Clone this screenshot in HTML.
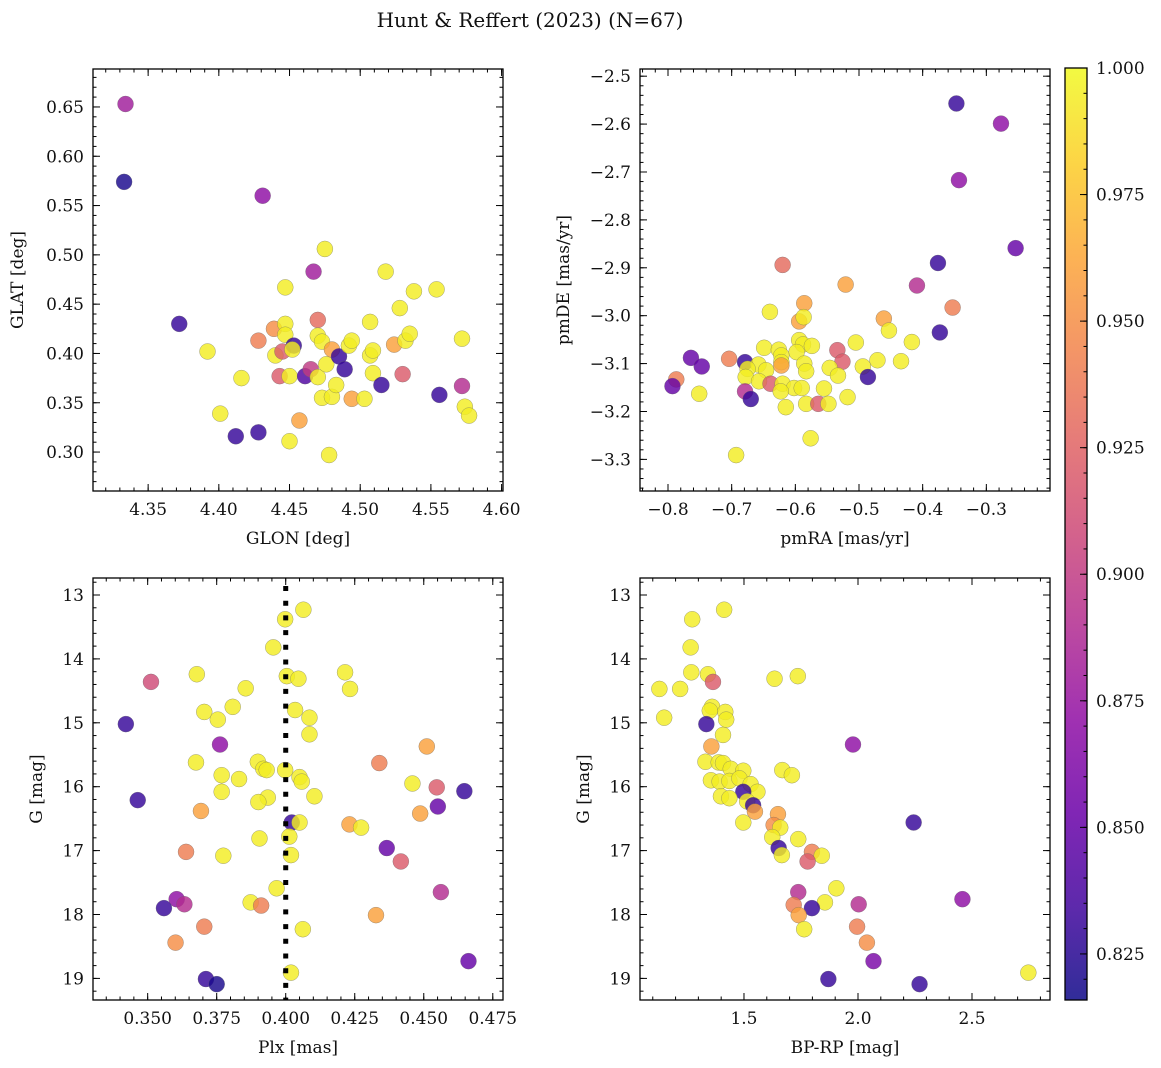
<!DOCTYPE html>
<html><head><meta charset="utf-8"><style>
html,body{margin:0;padding:0;background:#fff}
svg{display:block;font-family:"DejaVu Serif","Liberation Serif",serif}
</style></head><body>
<svg id="fig" width="1161" height="1068" viewBox="0 0 1161 1068" xmlns="http://www.w3.org/2000/svg">
<rect width="1161" height="1068" fill="#fff"/>
<text x="530" y="27" font-size="20" text-anchor="middle" fill="#111">Hunt &amp; Reffert (2023) (N=67)</text>
<defs><linearGradient id="cbg" x1="0" y1="1" x2="0" y2="0">
<stop offset="0" stop-color="#0d0887"/><stop offset="0.1" stop-color="#41049d"/><stop offset="0.2" stop-color="#6a00a8"/><stop offset="0.3" stop-color="#8f0da4"/><stop offset="0.4" stop-color="#b12a90"/><stop offset="0.5" stop-color="#cc4778"/><stop offset="0.6" stop-color="#e16462"/><stop offset="0.7" stop-color="#f2844b"/><stop offset="0.8" stop-color="#fca636"/><stop offset="0.9" stop-color="#fcce25"/><stop offset="1" stop-color="#f0f921"/></linearGradient></defs>
</svg>
<script>
const Y=0.995;
// Panel 1: GLON vs GLAT
const tlGlon=[4.334,4.333,4.431,4.372,4.392,4.416,4.401,4.412,4.428,4.428,4.439,4.440,4.447,4.447,4.447,4.445,4.443,4.453,4.452,4.450,4.450,4.457,4.461,4.465,4.467,4.470,4.470,4.473,4.470,4.475,4.473,4.478,4.476,4.480,4.480,4.483,4.485,4.489,4.492,4.494,4.494,4.503,4.507,4.507,4.509,4.509,4.515,4.518,4.524,4.528,4.530,4.532,4.535,4.538,4.554,4.556,4.572,4.572,4.574,4.577];
const tlGlat=[0.653,0.574,0.560,0.430,0.402,0.375,0.339,0.316,0.320,0.413,0.425,0.398,0.467,0.430,0.419,0.402,0.377,0.408,0.404,0.377,0.311,0.332,0.377,0.384,0.483,0.434,0.418,0.412,0.376,0.506,0.355,0.297,0.389,0.404,0.356,0.368,0.397,0.384,0.408,0.413,0.354,0.354,0.398,0.432,0.380,0.403,0.368,0.483,0.409,0.446,0.379,0.413,0.420,0.463,0.465,0.358,0.367,0.415,0.346,0.337];
const tlProb=[0.88,0.82,0.87,0.83,Y,Y,Y,0.83,0.83,0.94,0.95,Y,Y,Y,Y,0.92,0.92,0.83,Y,Y,Y,0.96,0.84,0.90,0.88,0.93,Y,Y,Y,Y,Y,Y,Y,0.96,Y,Y,0.83,0.83,Y,Y,0.96,Y,Y,Y,Y,Y,0.83,Y,0.96,Y,0.92,Y,Y,Y,Y,0.83,0.89,Y,Y,Y];
const tlXTicks=[4.35,4.40,4.45,4.50,4.55,4.60];
const tlYTicks=[0.30,0.35,0.40,0.45,0.50,0.55,0.60,0.65];
// Panel 2: pmRA vs pmDE
const trPmra=[-0.347,-0.277,-0.343,-0.254,-0.376,-0.620,-0.521,-0.409,-0.353,-0.586,-0.640,-0.594,-0.587,-0.461,-0.453,-0.373,-0.417,-0.505,-0.594,-0.588,-0.574,-0.534,-0.649,-0.626,-0.598,-0.622,-0.764,-0.704,-0.679,-0.622,-0.526,-0.471,-0.434,-0.586,-0.747,-0.658,-0.622,-0.675,-0.646,-0.583,-0.546,-0.494,-0.533,-0.678,-0.486,-0.787,-0.793,-0.657,-0.639,-0.620,-0.602,-0.590,-0.623,-0.555,-0.679,-0.751,-0.670,-0.518,-0.583,-0.564,-0.548,-0.615,-0.576,-0.693];
const trPmde=[-2.557,-2.599,-2.717,-2.859,-2.890,-2.894,-2.935,-2.937,-2.983,-2.974,-2.992,-3.012,-3.003,-3.006,-3.031,-3.035,-3.055,-3.056,-3.051,-3.060,-3.063,-3.072,-3.067,-3.071,-3.076,-3.083,-3.088,-3.090,-3.097,-3.097,-3.096,-3.093,-3.095,-3.100,-3.106,-3.102,-3.104,-3.111,-3.114,-3.116,-3.109,-3.106,-3.125,-3.128,-3.128,-3.133,-3.147,-3.137,-3.142,-3.142,-3.151,-3.151,-3.158,-3.152,-3.158,-3.163,-3.174,-3.170,-3.184,-3.184,-3.184,-3.191,-3.256,-3.291];
const trProb=[0.83,0.87,0.87,0.85,0.83,0.93,0.96,0.89,0.94,0.96,Y,0.96,Y,0.96,Y,0.83,Y,Y,Y,Y,Y,0.92,Y,Y,Y,Y,0.85,0.94,0.83,Y,0.92,Y,Y,Y,0.85,Y,0.96,Y,Y,Y,Y,Y,Y,Y,0.83,0.94,0.85,Y,0.92,Y,Y,Y,Y,Y,0.89,Y,0.83,Y,Y,0.92,Y,Y,Y,Y];
const trXTicks=[-0.8,-0.7,-0.6,-0.5,-0.4,-0.3];
const trYTicks=[-2.5,-2.6,-2.7,-2.8,-2.9,-3.0,-3.1,-3.2,-3.3];
// Panel 3: Plx vs G
const blPlx=[0.4064,0.3998,0.3955,0.3678,0.3512,0.4004,0.4046,0.4215,0.4233,0.3855,0.3808,0.3705,0.3754,0.4034,0.4086,0.4086,0.3421,0.3762,0.4511,0.3675,0.3899,0.3919,0.3931,0.3998,0.4339,0.3768,0.3831,0.4050,0.4058,0.4459,0.4547,0.4647,0.3464,0.3768,0.3935,0.3901,0.4104,0.4551,0.3693,0.4487,0.4022,0.4050,0.4231,0.4273,0.3905,0.4013,0.3639,0.4019,0.3774,0.4366,0.4417,0.3967,0.4562,0.3605,0.3633,0.3559,0.3873,0.3911,0.4327,0.3705,0.4062,0.3601,0.4662,0.4019,0.3711,0.3750];
const blG=[13.23,13.38,13.82,14.24,14.36,14.27,14.31,14.21,14.47,14.46,14.75,14.83,14.95,14.80,14.92,15.18,15.02,15.34,15.37,15.62,15.61,15.72,15.74,15.74,15.63,15.82,15.88,15.85,15.92,15.95,16.01,16.07,16.21,16.08,16.17,16.24,16.15,16.31,16.38,16.42,16.56,16.56,16.59,16.64,16.81,16.78,17.02,17.07,17.08,16.96,17.17,17.59,17.65,17.76,17.84,17.90,17.81,17.86,18.01,18.19,18.23,18.44,18.73,18.91,19.01,19.09];
const blProb=[Y,Y,Y,Y,0.91,Y,Y,Y,Y,Y,Y,Y,Y,Y,Y,Y,0.83,0.87,0.96,Y,Y,Y,Y,Y,0.94,Y,Y,Y,Y,Y,0.92,0.83,0.83,Y,Y,Y,Y,0.85,0.96,0.96,0.83,Y,0.96,Y,Y,Y,0.94,Y,Y,0.85,0.92,Y,0.89,0.87,0.89,0.83,Y,0.94,0.96,0.94,Y,0.95,0.85,Y,0.83,0.82];
const blXTicks=[0.350,0.375,0.400,0.425,0.450,0.475];
const gTicks=[13,14,15,16,17,18,19];
const plxLine=[0.4];
// Panel 4: BP-RP vs G
const brBprp=[1.413,1.273,1.266,1.269,1.342,1.364,1.129,1.220,1.634,1.736,1.150,1.360,1.350,1.418,1.422,1.335,1.408,1.357,1.978,1.331,1.389,1.408,1.442,1.497,1.668,1.710,1.355,1.393,1.436,1.480,1.529,1.559,1.497,1.399,1.436,1.514,1.540,1.548,1.649,1.497,1.630,1.659,2.244,1.624,1.738,1.652,1.666,1.798,1.841,1.779,1.905,1.738,1.855,2.458,2.003,1.718,1.798,1.740,1.996,1.764,2.039,2.068,2.747,1.870,2.270];
const brG=[13.23,13.38,13.82,14.21,14.24,14.36,14.47,14.47,14.31,14.27,14.92,14.75,14.81,14.83,14.95,15.02,15.19,15.37,15.34,15.61,15.62,15.63,15.72,15.75,15.74,15.82,15.90,15.92,15.91,15.87,15.96,16.08,16.08,16.15,16.18,16.23,16.29,16.39,16.43,16.56,16.60,16.64,16.56,16.79,16.82,16.96,17.07,17.02,17.08,17.17,17.59,17.65,17.81,17.76,17.84,17.85,17.90,18.01,18.19,18.23,18.44,18.73,18.91,19.01,19.09];
const brProb=[Y,Y,Y,Y,Y,0.92,Y,Y,Y,Y,Y,Y,Y,Y,Y,0.83,Y,0.96,0.87,Y,Y,Y,Y,Y,Y,Y,Y,Y,Y,Y,Y,Y,0.83,Y,Y,Y,0.83,0.96,0.96,Y,0.95,Y,0.83,Y,Y,0.83,Y,0.94,Y,0.92,Y,0.89,Y,0.87,0.89,0.94,0.83,0.96,0.94,Y,0.95,0.86,Y,0.83,0.83];
const brXTicks=[1.5,2.0,2.5];
const cbTicks=[0.825,0.850,0.875,0.900,0.925,0.950,0.975,1.000];

const NS="http://www.w3.org/2000/svg";
const svg=document.getElementById('fig');
function mk(tag,attrs,parent){const e=document.createElementNS(NS,tag);for(const k in attrs)e.setAttribute(k,attrs[k]);(parent||svg).appendChild(e);return e;}
const stops=[[13,8,135],[65,4,157],[106,0,168],[143,13,164],[177,42,144],[204,71,120],[225,100,98],[242,132,75],[252,166,54],[252,206,37],[240,249,33]];
const CMIN=0.8159,CMAX=1.0;
function cmap(v){let t=(v-CMIN)/(CMAX-CMIN);t=Math.max(0,Math.min(1,t));const f=t*10,i=Math.min(9,Math.floor(f)),r=f-i;const a=stops[i],b=stops[i+1];return 'rgb('+[0,1,2].map(j=>Math.round(a[j]+(b[j]-a[j])*r)).join(',')+')';}
function fmt(v,d){return v.toFixed(d).replace('-','\u2212');}
function lin(d0,d1,r0,r1){return v=>r0+(v-d0)/(d1-d0)*(r1-r0);}

function panel(p){
  const g=mk('g',{});
  
  
  const sx=lin(p.xr[0],p.xr[1],p.x0,p.x1), sy=lin(p.yr[0],p.yr[1],p.y0,p.y1);
  const tg=mk('g',{stroke:'#000','stroke-width':1},g);
  
  
  const xa=Math.min(p.xr[0],p.xr[1]),xb=Math.max(p.xr[0],p.xr[1]);
  for(let k=Math.ceil(xa/p.xmin-1e-6);k*p.xmin<=xb+1e-9;k++){const X=sx(k*p.xmin);mk('line',{x1:X,x2:X,y1:p.y1,y2:p.y1-3.5},tg);mk('line',{x1:X,x2:X,y1:p.y0,y2:p.y0+3.5},tg);}
  const ya=Math.min(p.yr[0],p.yr[1]),yb=Math.max(p.yr[0],p.yr[1]);
  for(let k=Math.ceil(ya/p.ymin-1e-6);k*p.ymin<=yb+1e-9;k++){const Yy=sy(k*p.ymin);mk('line',{x1:p.x0,x2:p.x0+3.5,y1:Yy,y2:Yy},tg);mk('line',{x1:p.x1,x2:p.x1-3.5,y1:Yy,y2:Yy},tg);}
  p.xt.forEach(v=>{const X=sx(v);mk('line',{x1:X,x2:X,y1:p.y1,y2:p.y1-7},tg);mk('line',{x1:X,x2:X,y1:p.y0,y2:p.y0+7},tg);
    const t=mk('text',{x:X,y:p.y1+24,'font-size':17,'text-anchor':'middle',fill:'#111'},g);t.textContent=fmt(v,p.xd);
    });
  p.yt.forEach(v=>{const Yy=sy(v);mk('line',{x1:p.x0,x2:p.x0+7,y1:Yy,y2:Yy},tg);mk('line',{x1:p.x1,x2:p.x1-7,y1:Yy,y2:Yy},tg);
    const t=mk('text',{x:p.x0-9,y:Yy+6,'font-size':17,'text-anchor':'end',fill:'#111'},g);t.textContent=fmt(v,p.yd);
    });
  const pg=mk('g',{},g);
  
  
  p.xs.forEach((v,i)=>{const c=mk('circle',{cx:sx(v),cy:sy(p.ys[i]),r:8,fill:cmap(p.c[i]),'fill-opacity':0.82,stroke:'#666','stroke-opacity':0.6,'stroke-width':0.5},pg);
    });
  if(p.vline){p.vline.forEach(v=>{const l=mk('line',{x1:sx(v),x2:sx(v),y1:p.y0+8,y2:p.y1,stroke:'#000','stroke-width':5,'stroke-dasharray':'5 9.7'},g);
    });}
  const fr=mk('rect',{x:p.x0,y:p.y0,width:p.x1-p.x0,height:p.y1-p.y0,fill:'none',stroke:'#000','stroke-width':1.3},g);
  
  const xl=mk('text',{x:(p.x0+p.x1)/2,y:p.y1+53,'font-size':17,'text-anchor':'middle',fill:'#111'},g);xl.textContent=p.xl;
  
  const yx=p.ylx;const yl=mk('text',{x:yx,y:(p.y0+p.y1)/2,'font-size':17,'text-anchor':'middle',fill:'#111',transform:'rotate(-90 '+yx+' '+(p.y0+p.y1)/2+')'},g);yl.textContent=p.yl;
  
}
panel({name:'glon-glat-panel',x0:93,x1:503,y0:69,y1:491,xr:[4.311,4.601],yr:[0.6885,0.2605],xmin:0.01,ymin:0.01,xt:tlXTicks,yt:tlYTicks,xd:2,yd:2,xs:tlGlon,ys:tlGlat,c:tlProb,xl:'GLON [deg]',yl:'GLAT [deg]',ylx:23});
panel({name:'proper-motion-panel',x0:640,x1:1050,y0:69,y1:491,xr:[-0.844,-0.200],yr:[-2.485,-3.366],xmin:0.02,ymin:0.02,xt:trXTicks,yt:trYTicks,xd:1,yd:1,xs:trPmra,ys:trPmde,c:trProb,xl:'pmRA [mas/yr]',yl:'pmDE [mas/yr]',ylx:569});
panel({name:'parallax-magnitude-panel',x0:93,x1:503,y0:578,y1:1000,xr:[0.3302,0.4787],yr:[12.734,19.338],xmin:0.005,ymin:0.2,xt:blXTicks,yt:gTicks,xd:3,yd:0,xs:blPlx,ys:blG,c:blProb,xl:'Plx [mas]',yl:'G [mag]',ylx:42,vline:plxLine});
panel({name:'color-magnitude-panel',x0:640,x1:1050,y0:578,y1:1000,xr:[1.044,2.842],yr:[12.734,19.338],xmin:0.1,ymin:0.2,xt:brXTicks,yt:gTicks,xd:1,yd:0,xs:brBprp,ys:brG,c:brProb,xl:'BP-RP [mag]',yl:'G [mag]',ylx:589});
const cb=mk('g',{});


const cy=lin(CMIN,CMAX,1000,68);
mk('rect',{x:1065,y:68,width:22,height:932,fill:'url(#cbg)','fill-opacity':0.85},cb);
for(let k=Math.ceil(CMIN/0.005);k*0.005<=CMAX+1e-9;k++){const Yy=cy(k*0.005);mk('line',{x1:1087,x2:1083.5,y1:Yy,y2:Yy,stroke:'#000'},cb);}
cbTicks.forEach(v=>{const Yy=cy(v);mk('line',{x1:1087,x2:1080,y1:Yy,y2:Yy,stroke:'#000'},cb);
  const t=mk('text',{x:1096,y:Yy+6,'font-size':17,fill:'#111'},cb);t.textContent=v.toFixed(3);
  });
mk('rect',{x:1065,y:68,width:22,height:932,fill:'none',stroke:'#000','stroke-width':1.3},cb);
</script>
</body></html>
